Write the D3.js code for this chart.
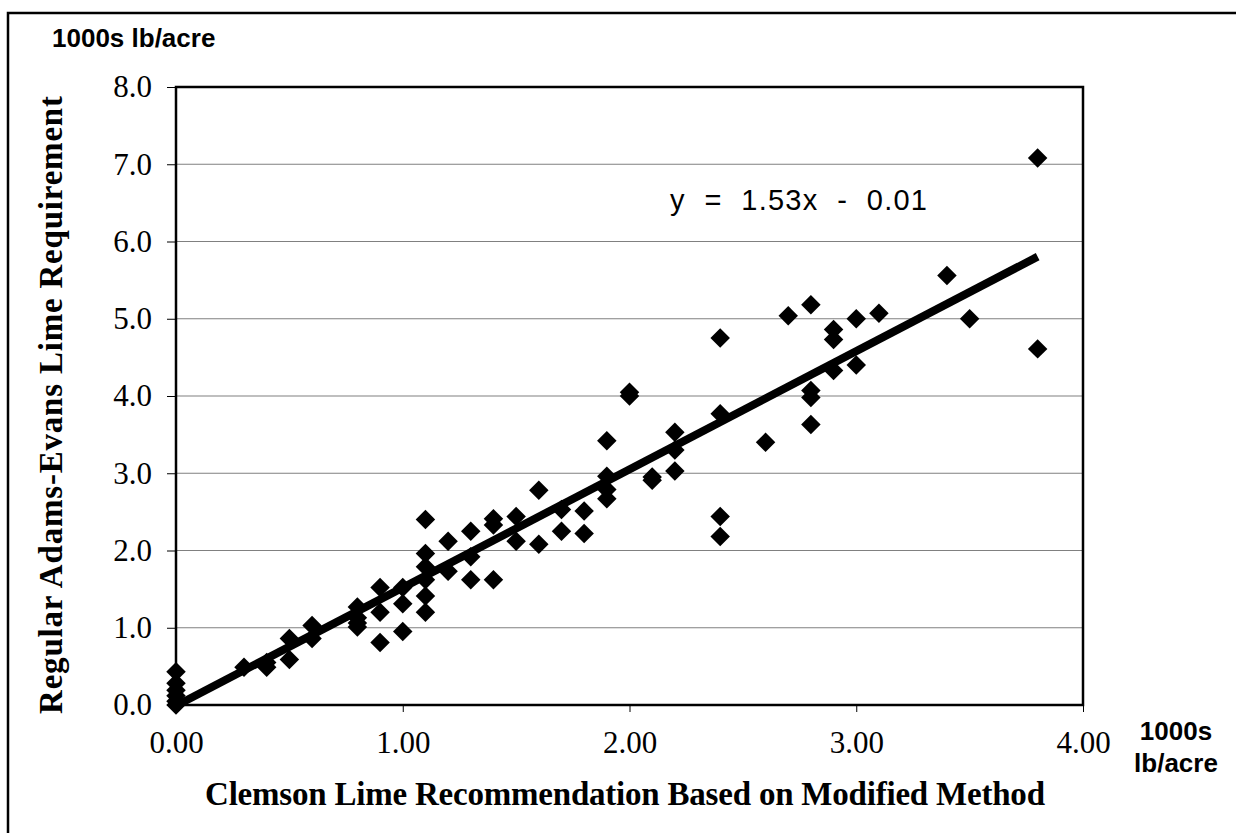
<!DOCTYPE html>
<html>
<head>
<meta charset="utf-8">
<script src="https://cdn.jsdelivr.net/npm/d3@7"></script>
<style>
  body { margin: 0; background: #fff; }
  svg { display: block; }
</style>
</head>
<body>
<div id="chart"></div>
<script>
// Clemson (modified method) vs regular Adams-Evans lime requirement, 1000s lb/acre
const clemson = [
  0, 0, 0, 0, 0, 0,
  0.3,
  0.4, 0.4,
  0.5, 0.5,
  0.6, 0.6,
  0.8, 0.8, 0.8, 0.8,
  0.9, 0.9, 0.9,
  1.0, 1.0, 1.0,
  1.1, 1.1, 1.1, 1.1, 1.1, 1.1,
  1.2, 1.2,
  1.3, 1.3, 1.3,
  1.4, 1.4, 1.4,
  1.5, 1.5,
  1.6, 1.6,
  1.7, 1.7,
  1.8, 1.8,
  1.9, 1.9, 1.9, 1.9,
  2.0, 2.0,
  2.1, 2.1,
  2.2, 2.2, 2.2,
  2.4, 2.4, 2.4, 2.4,
  2.6,
  2.7,
  2.8, 2.8, 2.8, 2.8,
  2.9, 2.9, 2.9,
  3.0, 3.0,
  3.1,
  3.4,
  3.5,
  3.8, 3.8
]
const adamsEvans = [
  0.43, 0.28, 0.19, 0.12, 0.05, 0.0,
  0.49,
  0.55, 0.49,
  0.86, 0.59,
  1.03, 0.86,
  1.27, 1.13, 1.06, 1.01,
  1.52, 1.20, 0.81,
  1.52, 1.31, 0.95,
  2.40, 1.96, 1.79, 1.62, 1.41, 1.20,
  2.12, 1.73,
  2.25, 1.92, 1.62,
  2.41, 2.33, 1.62,
  2.44, 2.12,
  2.78, 2.08,
  2.53, 2.25,
  2.51, 2.22,
  3.42, 2.96, 2.79, 2.67,
  4.05, 4.00,
  2.95, 2.91,
  3.53, 3.30, 3.03,
  4.75, 3.77, 2.44, 2.18,
  3.40,
  5.04,
  5.18, 4.07, 3.98, 3.63,
  4.86, 4.73, 4.33,
  5.00, 4.40,
  5.07,
  5.56,
  5.00,
  7.08, 4.61
]
const points = clemson.map((x, i) => ({ x: x, y: adamsEvans[i] }))

// fitted trend line y = 1.53x - 0.01
const slope = 1.53
const intercept = -0.01
const fitRange = [0, 3.8]

const xTicks = [0, 1, 2, 3, 4]
const yTicks = [0, 1, 2, 3, 4, 5, 6, 7, 8]

const W = 1236, H = 833
const PLOT = { LEFT: 176, RIGHT: 1083, TOP: 87, BOTTOM: 705 }
const SERIF = '"Liberation Serif", "Times New Roman", serif'
const SANS = '"Liberation Sans", Arial, sans-serif'

const svg = d3.select('#chart').append('svg')
  .attr('width', W)
  .attr('height', H)

// outer chart frame (runs off the picture at right and bottom)
svg.append('rect')
  .attr('x', 8).attr('y', 13)
  .attr('width', W + 20).attr('height', H + 20)
  .attr('fill', 'none')
  .attr('stroke', '#000')
  .attr('stroke-width', 2.5)

const x = d3.scaleLinear().domain([0, 4]).range([PLOT.LEFT, PLOT.RIGHT])
const y = d3.scaleLinear().domain([0, 8]).range([PLOT.BOTTOM, PLOT.TOP])

// horizontal gridlines
svg.append('g')
  .selectAll('line')
  .data(yTicks.filter(t => t > 0 && t < 8))
  .enter().append('line')
  .attr('x1', PLOT.LEFT).attr('x2', PLOT.RIGHT)
  .attr('y1', d => y(d)).attr('y2', d => y(d))
  .attr('stroke', '#808080')
  .attr('stroke-width', 1.2)

// axes
const xAxis = svg.append('g')
  .attr('transform', `translate(0, ${PLOT.BOTTOM})`)
  .call(d3.axisBottom(x).tickValues(xTicks).tickFormat(d3.format('.2f'))
    .tickSize(7).tickPadding(19))
xAxis.select('.domain').remove()
xAxis.selectAll('line').attr('stroke', '#000').attr('stroke-width', 1)
xAxis.selectAll('text')
  .attr('font-family', SERIF).attr('font-size', 31).attr('fill', '#000')

const yAxis = svg.append('g')
  .attr('transform', `translate(${PLOT.LEFT}, 0)`)
  .call(d3.axisLeft(y).tickValues(yTicks).tickFormat(d3.format('.1f'))
    .tickSize(9).tickPadding(15))
yAxis.select('.domain').remove()
yAxis.selectAll('line').attr('stroke', '#000').attr('stroke-width', 1)
yAxis.selectAll('text')
  .attr('font-family', SERIF).attr('font-size', 31).attr('fill', '#000')

// plot area border
svg.append('rect')
  .attr('x', PLOT.LEFT).attr('y', PLOT.TOP)
  .attr('width', PLOT.RIGHT - PLOT.LEFT)
  .attr('height', PLOT.BOTTOM - PLOT.TOP)
  .attr('fill', 'none')
  .attr('stroke', '#000')
  .attr('stroke-width', 2.5)

// points
const diamond = d3.symbol().type(d3.symbolSquare).size(190)
svg.append('g')
  .selectAll('path')
  .data(points)
  .enter().append('path')
  .attr('d', diamond)
  .attr('transform', d => `translate(${x(d.x)}, ${y(d.y)}) rotate(45)`)
  .attr('fill', '#000')

// trend line
const line = d3.line()
  .x(d => x(d))
  .y(d => y(slope * d + intercept))
svg.append('path')
  .datum(fitRange)
  .attr('d', line)
  .attr('fill', 'none')
  .attr('stroke', '#000')
  .attr('stroke-width', 8)

// equation
svg.append('text')
  .attr('x', 670).attr('y', 210)
  .attr('font-family', SANS).attr('font-size', 29)
  .attr('textLength', 257).attr('lengthAdjust', 'spacing')
  .style('white-space', 'pre')
  .text('y  =  1.53x  -  0.01')

// axis titles
svg.append('text')
  .attr('x', 625)
  .attr('y', 805)
  .attr('text-anchor', 'middle')
  .attr('font-family', SERIF).attr('font-size', 33).attr('font-weight', 'bold')
  .attr('textLength', 840).attr('lengthAdjust', 'spacing')
  .text('Clemson Lime Recommendation Based on Modified Method')

svg.append('text')
  .attr('transform', 'translate(62, 405) rotate(-90)')
  .attr('text-anchor', 'middle')
  .attr('font-family', SERIF).attr('font-size', 33).attr('font-weight', 'bold')
  .attr('textLength', 618).attr('lengthAdjust', 'spacing')
  .text('Regular Adams-Evans Lime Requirement')

// unit labels
svg.append('text')
  .attr('x', 52).attr('y', 47)
  .attr('font-family', SANS).attr('font-size', 26).attr('font-weight', 'bold')
  .text('1000s lb/acre')

const unitX = svg.append('text')
  .attr('text-anchor', 'middle')
  .attr('font-family', SANS).attr('font-size', 26).attr('font-weight', 'bold')
unitX.append('tspan').attr('x', 1176).attr('y', 740).text('1000s')
unitX.append('tspan').attr('x', 1176).attr('y', 772).text('lb/acre')
</script>
</body>
</html>
